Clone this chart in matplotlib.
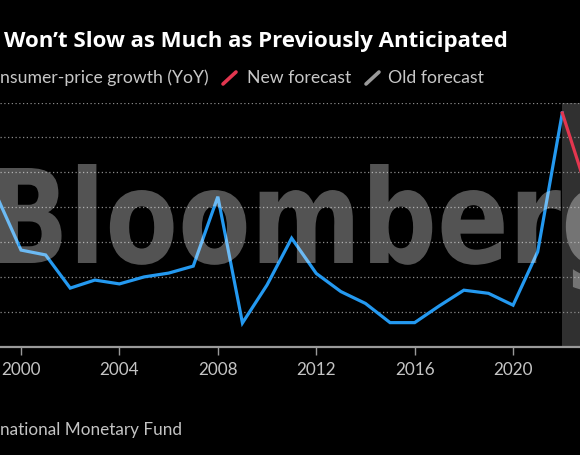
import matplotlib
matplotlib.use("Agg")
import matplotlib.pyplot as plt
from matplotlib.textpath import TextPath
from matplotlib.patches import PathPatch
from matplotlib.font_manager import FontProperties
from matplotlib.transforms import Affine2D
from matplotlib.lines import Line2D

# world consumer-price growth, % YoY (IMF)
years = [1999, 2000, 2001, 2002, 2003, 2004, 2005, 2006, 2007, 2008, 2009, 2010,
         2011, 2012, 2013, 2014, 2015, 2016, 2017, 2018, 2019, 2020, 2021, 2022]
cpi = [6.34, 4.77, 4.63, 3.68, 3.91, 3.80, 4.00, 4.11, 4.31, 6.30, 2.68, 3.77,
       5.11, 4.10, 3.58, 3.24, 2.69, 2.69, 3.17, 3.62, 3.53, 3.19, 4.72, 8.70]
new_years = [2022, 2023]
new_forecast = [8.70, 6.50]
tick_years = [2000, 2004, 2008, 2012, 2016, 2020]
tick_labels = ['2000', '2004', '2008', '2012', '2016', '2020']

BLUE = '#2499f0'
RED = '#e3364f'
W, H = 580, 455

fig = plt.figure(figsize=(W / 100, H / 100), dpi=100, facecolor='black')
fx = lambda x: x / W
fy = lambda y: 1 - y / H

ax = fig.add_axes([0, fy(346.7), 1, (346.7 - 102.5) / H])
ax.set_facecolor('black')
ax.set_xlim(1999.146, 2022.72)
ax.set_ylim(2, 9)

# forecast zone
ax.axvspan(2022, 2024, color='#303030', lw=0, zorder=0)
for v in range(3, 10):
    ax.axhline(v, color='#8a8a8a', lw=0.9, ls=(0, (1, 2)), zorder=1)

ax.plot(years, cpi, color=BLUE, lw=2.3, zorder=3, solid_joinstyle='miter')
ax.plot(new_years, new_forecast, color=RED, lw=2.3, zorder=3)

for s in ['left', 'right', 'top']:
    ax.spines[s].set_visible(False)
ax.spines['bottom'].set_color('#9a9a9a')
ax.spines['bottom'].set_linewidth(1.6)
ax.set_yticks([])
ax.set_xticks(tick_years)
ax.set_xticklabels(tick_labels, fontfamily='Lato', fontsize=12.3, color='#c4c4c4')
ax.tick_params(axis='x', direction='out', length=5.5, width=1, color='#9a9a9a', pad=5.5)

# titles and legend
fig.text(fx(4), fy(46.7), 'Won\u2019t Slow as Much as Previously Anticipated',
         fontfamily='Open Sans', fontweight='bold', fontsize=16, color='white',
         va='baseline')
leg_kw = dict(fontfamily='Lato', fontsize=12.7, color='#c8c8c8', va='baseline')
fig.text(fx(-0.5), fy(83.3), 'nsumer-price growth (YoY)', **leg_kw)
fig.text(fx(247), fy(83.3), 'New forecast', **leg_kw)
fig.text(fx(388), fy(83.3), 'Old forecast', **leg_kw)
for x0, c in [(222, RED), (365, '#9a9a9a')]:
    fig.add_artist(Line2D([fx(x0 + 1), fx(x0 + 14)], [fy(84), fy(72)], color=c,
                          lw=2.6, solid_capstyle='round'))
fig.text(fx(-0.5), fy(435), 'national Monetary Fund', fontfamily='Lato',
         fontsize=12.3, color='#c4c4c4', va='baseline')

# Bloomberg watermark on top
prop = FontProperties(family='DejaVu Sans', weight='bold')
tp = TextPath((0, 0), 'Bloomberg', size=1, prop=prop)
cap = TextPath((0, 0), 'B', size=1, prop=prop).get_extents().ymax
ext = tp.get_extents()
x_left, x_right, top, base = -2, 628, 168, 263
sx = (x_right - x_left) / ext.width
sy = (base - top) / cap
tr = (Affine2D().translate(-ext.xmin, 0).scale(sx, sy)
      .translate(x_left, H - base).scale(1 / W, 1 / H) + fig.transFigure)
fig.add_artist(PathPatch(tp, transform=tr, facecolor='white', alpha=0.33, lw=0, zorder=5))

fig.savefig('out.png', dpi=100, facecolor='black')
